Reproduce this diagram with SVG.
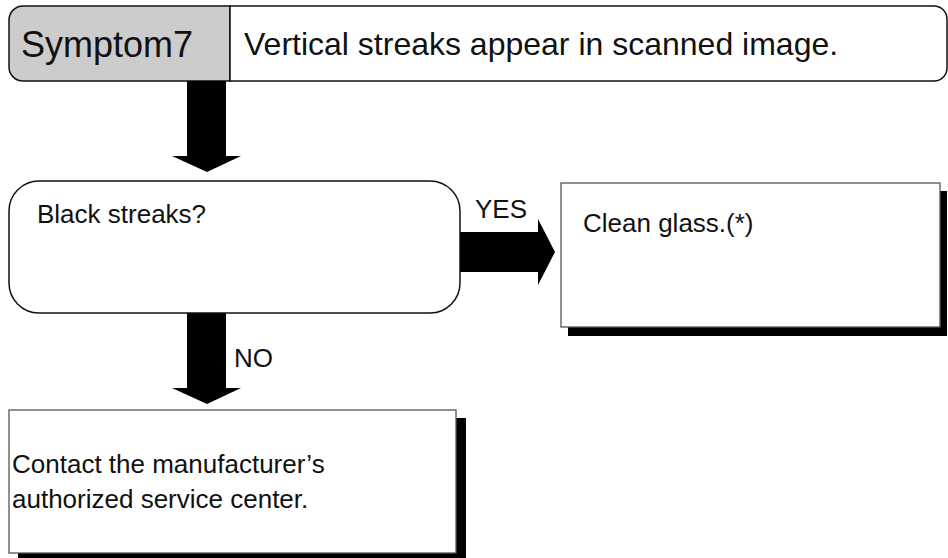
<svg xmlns="http://www.w3.org/2000/svg" width="948" height="558" viewBox="0 0 948 558">
<style>
text{font-family:"Liberation Sans",Arial,sans-serif;fill:#111}
.t26{font-size:26px}
.box{fill:#fff;stroke:#555;stroke-width:1.3}
.rbox{fill:#fff;stroke:#111;stroke-width:1.5}
.shadow{fill:#000}
.arrow{fill:#000}
</style>
<rect width="948" height="558" fill="#fff"/>
<g id="header">
<path d="M230,6 H23 A14,14 0 0 0 9,20 V67 A14,14 0 0 0 23,81 H230 Z" fill="#cccccc" stroke="#111" stroke-width="1.5"/>
<path d="M230,6 H934 A13,13 0 0 1 947,19 V68 A13,13 0 0 1 934,81 H230 Z" fill="#fff" stroke="#111" stroke-width="1.5"/>
<text x="21" y="57" style="font-size:36px">Symptom7</text>
<text x="244" y="55" style="font-size:32px">Vertical streaks appear in scanned image.</text>
</g>
<g id="connectors">
<polygon class="arrow" points="187,81 226,81 226,156 241,156 207,172 172,156 187,156"/>
<polygon class="arrow" points="460,232 538,232 538,219 555,252 538,285 538,272 460,272"/>
<text class="t26" x="475" y="218">YES</text>
<polygon class="arrow" points="187,313 226,313 226,388 241,388 207,404 172,388 187,388"/>
<text class="t26" x="234" y="367">NO</text>
</g>
<g id="q1">
<rect class="rbox" x="9" y="181" width="451" height="132" rx="30" ry="30"/>
<text class="t26" x="37" y="223">Black streaks?</text>
</g>
<g id="yes1">
<rect class="shadow" x="568" y="191" width="379" height="145"/>
<rect class="box" x="561" y="183" width="379" height="144"/>
<text class="t26" x="583" y="232">Clean glass.(*)</text>
</g>
<g id="no1">
<rect class="shadow" x="18" y="418" width="448" height="140"/>
<rect class="box" x="9" y="410" width="447" height="143"/>
<text class="t26" x="12" y="473">Contact the manufacturer’s</text>
<text class="t26" x="12" y="508">authorized service center.</text>
</g>
</svg>
